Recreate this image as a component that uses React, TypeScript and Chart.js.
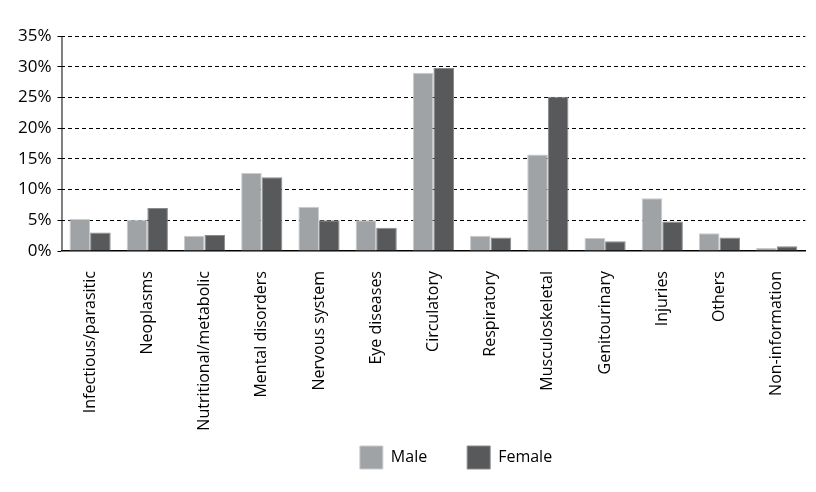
import React, { useEffect, useRef } from "react";
import { Chart, registerables } from "chart.js";

Chart.register(...registerables);

const categories = [
  "Infectious/parasitic",
  "Neoplasms",
  "Nutritional/metabolic",
  "Mental disorders",
  "Nervous system",
  "Eye diseases",
  "Circulatory",
  "Respiratory",
  "Musculoskeletal",
  "Genitourinary",
  "Injuries",
  "Others",
  "Non-information",
];

const maleValues = [5.2, 5.1, 2.5, 12.7, 7.2, 5.0, 29.0, 2.5, 15.7, 2.1, 8.6, 2.9, 0.5];
const femaleValues = [3.0, 7.0, 2.6, 12.0, 5.0, 3.8, 29.8, 2.2, 25.1, 1.6, 4.8, 2.2, 0.76];

const yTicks = [0, 5, 10, 15, 20, 25, 30, 35];

const LEGEND_PAD = 40;
const LEGEND_ITEM_TOP = 438; // canvas y of legend boxes
const LEGEND_SHIFT = 47;

const solidYAxis = {
  id: "solidYAxis",
  afterDraw(chart: any) {
    const { ctx, chartArea } = chart;
    ctx.save();
    ctx.strokeStyle = "#000";
    ctx.lineWidth = 1;
    ctx.setLineDash([]);
    ctx.beginPath();
    ctx.moveTo(chartArea.left + 0.5, chartArea.top);
    ctx.lineTo(chartArea.left + 0.5, chartArea.bottom);
    ctx.stroke();
    ctx.restore();
  },
};

const legendPlacer = {
  id: "legendPlacer",
  afterInit(chart: any) {
    const lg = chart.legend;
    if (lg && !lg.__wrapped) {
      const orig = lg.fit.bind(lg);
      lg.fit = function () {
        orig();
        this.height = 45;
      };
      lg.__wrapped = true;
    }
  },
  afterLayout(chart: any) {
    const lg = chart.legend;
    if (!lg) return;
    lg.top = LEGEND_ITEM_TOP - LEGEND_PAD;
    lg.height = 80;
    lg.bottom = lg.top + 80;
    lg.left += LEGEND_SHIFT;
    lg.right += LEGEND_SHIFT;
  },
};

export default function App() {
  const ref = useRef<HTMLCanvasElement | null>(null);

  useEffect(() => {
    if (!ref.current) return;
    const chart = new Chart(ref.current, {
      type: "bar",
      data: {
        labels: categories,
        datasets: [
          {
            label: "Male",
            data: maleValues,
            backgroundColor: "#a0a3a6",
            borderColor: "#c9cbcd",
            borderWidth: 1,
          },
          {
            label: "Female",
            data: femaleValues,
            backgroundColor: "#58595b",
            borderColor: "#8a8b8d",
            borderWidth: 1,
          },
        ],
      },
      plugins: [solidYAxis, legendPlacer],
      options: {
        animation: false,
        responsive: false,
        maintainAspectRatio: false,
        datasets: {
          bar: { categoryPercentage: 0.72, barPercentage: 1 },
        },
        layout: { padding: { left: 4, right: 2, top: 28, bottom: 4 } },
        plugins: {
          tooltip: { enabled: false },
          legend: {
            position: "bottom",
            labels: {
              boxWidth: 23,
              boxHeight: 23,
              padding: LEGEND_PAD,
              color: "#000",
              font: { family: "Open Sans", size: 16 },
            },
          },
        },
        scales: {
          x: {
            grid: { display: false },
            border: { display: true, color: "#000", width: 1.5 },
            afterFit: (scale: any) => {
              scale.height = 184;
            },
            ticks: {
              minRotation: 90,
              maxRotation: 90,
              autoSkip: false,
              padding: 12,
              color: "#000",
              font: { family: "Open Sans", size: 16 },
            },
          },
          y: {
            min: 0,
            max: 35,
            afterBuildTicks: (scale: any) => {
              scale.ticks = yTicks.map((v) => ({ value: v }));
            },
            grid: {
              color: (ctx: any) => (ctx.tick && ctx.tick.value === 0 ? "rgba(0,0,0,0)" : "#000"),
              lineWidth: 1,
              tickLength: 4,
              tickColor: "#000",
            },
            border: { display: false, dash: [4, 3] },
            ticks: {
              padding: 6,
              color: "#000",
              font: { family: "Open Sans", size: 17 },
              callback: (v: any) => `${v}%`,
            },
          },
        },
      },
    });
    return () => chart.destroy();
  }, []);

  return (
    <div style={{ width: 800, height: 476 }}>
      <canvas ref={ref} width={800} height={476} style={{ width: 800, height: 476 }} />
    </div>
  );
}
